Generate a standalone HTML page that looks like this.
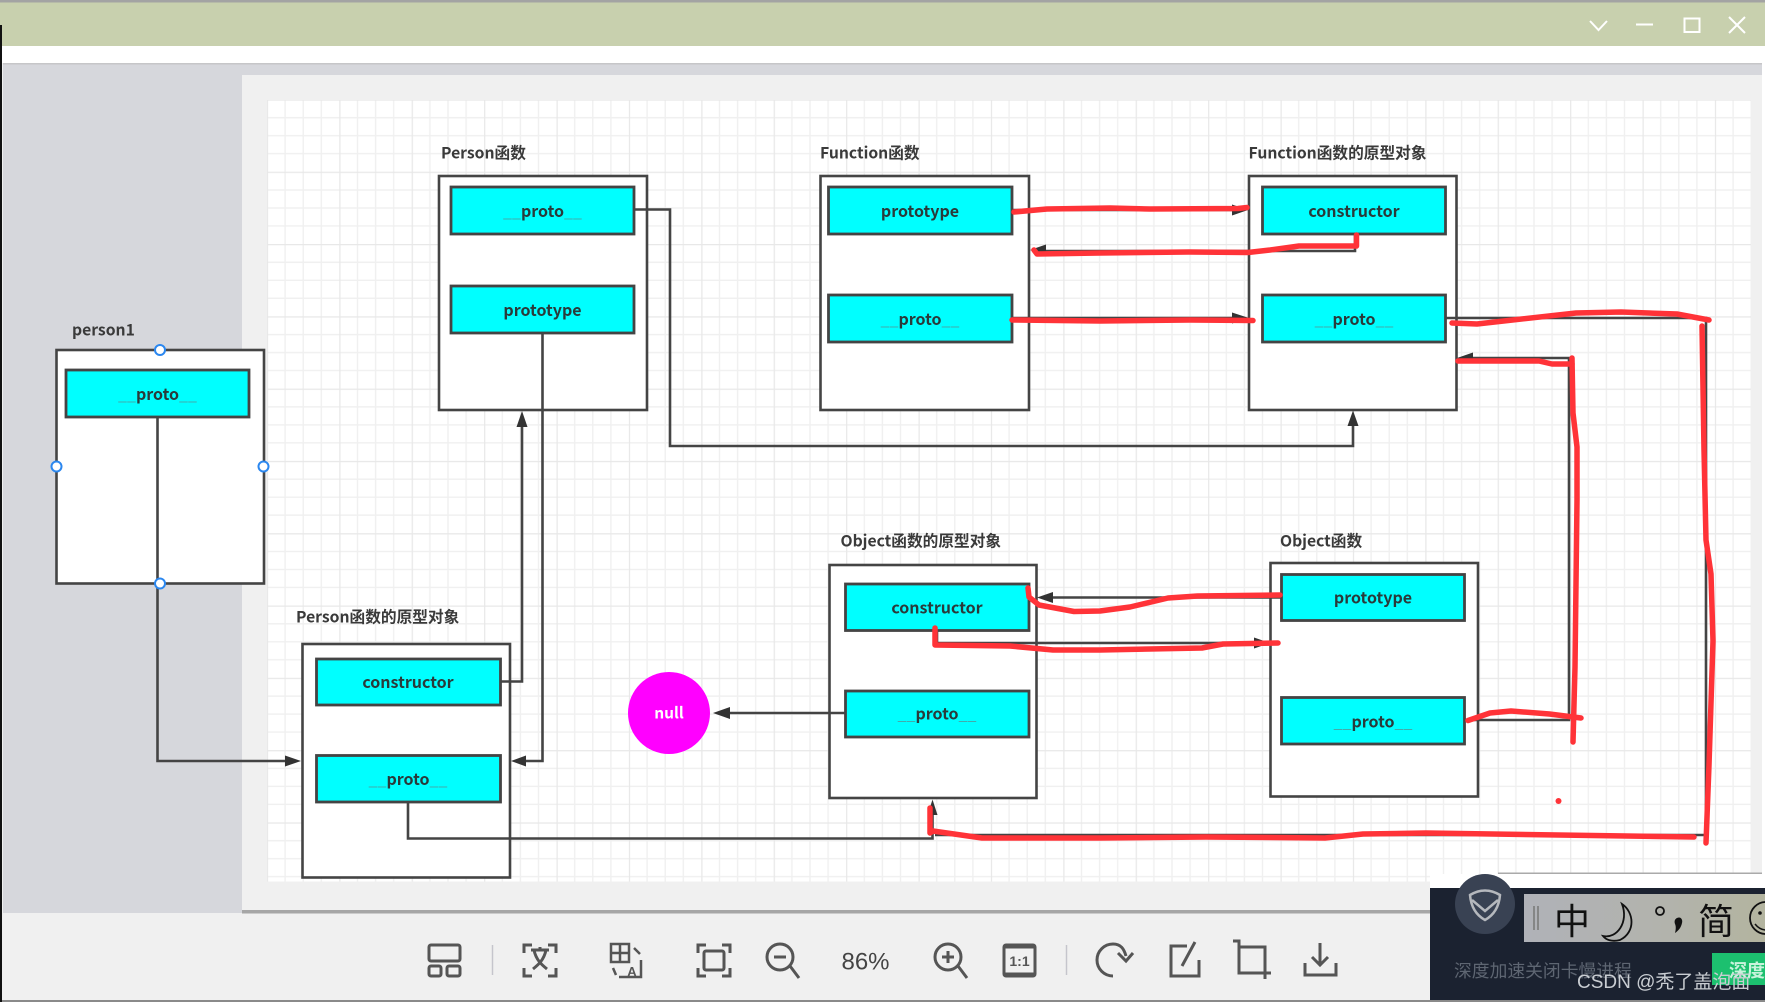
<!DOCTYPE html>
<html><head><meta charset="utf-8"><style>
html,body{margin:0;padding:0;width:1765px;height:1002px;overflow:hidden;background:#f0f0f0}
svg{display:block}
text{font-family:"Noto Sans CJK SC","Liberation Sans",sans-serif}
.lb{font-size:15.7px;font-weight:700;fill:#3a3a3a}
.t{font-size:16px;font-weight:700;fill:#2a3a3a;text-anchor:middle}
.u{fill:#45a8a8;font-weight:400}
.box{fill:#fff;stroke:#444;stroke-width:2.6}
.c{fill:#00ffff;stroke:#444;stroke-width:2.8}
.l{fill:none;stroke:#444;stroke-width:2.6}
.a{fill:#333}
.r{fill:none;stroke:#ff3338;stroke-width:5.5;stroke-linecap:round;stroke-linejoin:round}
.h{fill:#fff;stroke:#2b87ef;stroke-width:2}
.i{fill:none;stroke:#555;stroke-width:3}
</style></head><body>
<svg width="1765" height="1002" viewBox="0 0 1765 1002" xmlns="http://www.w3.org/2000/svg">
<defs>
<pattern id="g" x="267" y="100" width="72.4" height="72.3" patternUnits="userSpaceOnUse">
<path d="M0 0V72.3M18.1 0V72.3M36.2 0V72.3M54.3 0V72.3M0 17.7H72.4M0 35.7H72.4M0 53.7H72.4" stroke="#f0f0f0" stroke-width="1.4" fill="none"/>
</pattern>
<pattern id="gm" x="339.3" y="171.7" width="72.4" height="72.3" patternUnits="userSpaceOnUse">
<path d="M0 0V72.3M0 0H72.4" stroke="#e8e8e8" stroke-width="2.4" fill="none"/>
</pattern>
</defs>
<!-- window chrome -->
<rect x="0" y="0" width="1765" height="2.5" fill="#a3a3a3"/>
<rect x="0" y="2.5" width="1765" height="44" fill="#c8d0ae"/>
<rect x="0" y="46" width="1765" height="17" fill="#fff"/>
<rect x="3" y="63" width="1759" height="850" fill="#d6d7dc"/>
<rect x="3" y="63" width="1759" height="1.5" fill="#c6c6c8"/>
<rect x="242" y="75" width="1520" height="835" fill="#f0f0f0"/>
<rect x="267" y="100" width="1484" height="781.5" fill="#fff"/>
<rect x="267" y="100" width="1484" height="781.5" fill="url(#g)"/>
<rect x="267" y="100" width="1484" height="781.5" fill="url(#gm)"/>
<rect x="1762" y="46" width="3" height="845" fill="#fff"/>
<rect x="0" y="913" width="1765" height="89" fill="#f0f0f0"/>
<rect x="242" y="910" width="1520" height="3.5" fill="#a6a6a6"/>
<rect x="0" y="1000" width="1765" height="2" fill="#8a8a8a"/>
<rect x="0" y="25" width="2" height="977" fill="#111"/>
<!-- window buttons -->
<path d="M1590 21l8.500 9 8.500-9" fill="none" stroke="#fff" stroke-width="2"/>
<path d="M1636 24.500h17" fill="none" stroke="#fff" stroke-width="2"/>
<rect x="1684.500" y="18.500" width="15" height="13.500" fill="none" stroke="#fff" stroke-width="2"/>
<path d="M1729 17l16 16M1745 17l-16 16" fill="none" stroke="#fff" stroke-width="2"/>

<!-- boxes -->
<rect class="box" x="56.500" y="350" width="207.500" height="233.500"/>
<rect class="box" x="439" y="176" width="208" height="234"/>
<rect class="box" x="820.500" y="176" width="208.500" height="234"/>
<rect class="box" x="1249" y="176" width="207.500" height="234"/>
<rect class="box" x="302.500" y="644" width="207.500" height="233.500"/>
<rect class="box" x="829.500" y="565" width="207" height="233"/>
<rect class="box" x="1270.500" y="563" width="207.500" height="233.500"/>

<g>
<rect class="c" x="66" y="370" width="183" height="47"/>
<rect class="c" x="451" y="187" width="183" height="47"/>
<rect class="c" x="451" y="286" width="183" height="47"/>
<rect class="c" x="828.500" y="187" width="183.500" height="47"/>
<rect class="c" x="828.500" y="295" width="183.500" height="47"/>
<rect class="c" x="1262.500" y="187" width="183" height="47"/>
<rect class="c" x="1262.500" y="295" width="183" height="47"/>
<rect class="c" x="316.500" y="659" width="184" height="46"/>
<rect class="c" x="316.500" y="755.500" width="184" height="46.500"/>
<rect class="c" x="845.500" y="584" width="183.500" height="46.500"/>
<rect class="c" x="845.500" y="691" width="183.500" height="46"/>
<rect class="c" x="1281.500" y="574.500" width="183" height="46"/>
<rect class="c" x="1281.500" y="697.500" width="183" height="46.500"/>
</g>

<!-- labels -->
<text class="lb" x="72" y="335.500">person1</text>
<text class="lb" x="441" y="158.500">Person函数</text>
<text class="lb" x="820" y="158.500">Function函数</text>
<text class="lb" x="1248.500" y="158.500">Function函数的原型对象</text>
<text class="lb" x="296" y="622.500">Person函数的原型对象</text>
<text class="lb" x="840.500" y="546.500">Object函数的原型对象</text>
<text class="lb" x="1280" y="546.500">Object函数</text>

<text class="t" x="157.500" y="400"><tspan class="u">__</tspan>proto<tspan class="u">__</tspan></text>
<text class="t" x="542.500" y="217"><tspan class="u">__</tspan>proto<tspan class="u">__</tspan></text>
<text class="t" x="542.500" y="316">prototype</text>
<text class="t" x="920" y="217">prototype</text>
<text class="t" x="920" y="325"><tspan class="u">__</tspan>proto<tspan class="u">__</tspan></text>
<text class="t" x="1354" y="217">constructor</text>
<text class="t" x="1354" y="325"><tspan class="u">__</tspan>proto<tspan class="u">__</tspan></text>
<text class="t" x="408" y="688">constructor</text>
<text class="t" x="408" y="785"><tspan class="u">__</tspan>proto<tspan class="u">__</tspan></text>
<text class="t" x="937" y="613.500">constructor</text>
<text class="t" x="937" y="719.500"><tspan class="u">__</tspan>proto<tspan class="u">__</tspan></text>
<text class="t" x="1373" y="603.500">prototype</text>
<text class="t" x="1373" y="727.500"><tspan class="u">__</tspan>proto<tspan class="u">__</tspan></text>

<!-- null -->
<ellipse cx="669" cy="713" rx="41" ry="41" fill="#ff00ff"/>
<text x="669" y="718.500" font-size="15.500" font-weight="700" fill="#fff" text-anchor="middle">null</text>

<!-- connectors -->
<path class="l" d="M634 209.500H670V446H1353V425"/>
<polygon class="a" points="1353,410.500 1347.500,426 1358.500,426"/>
<path class="l" d="M542.500 333V761H525"/>
<polygon class="a" points="511,761 526,755.500 526,766.500"/>
<path class="l" d="M500.500 681.500H522V425"/>
<polygon class="a" points="522,411 516.500,427 527.500,427"/>
<path class="l" d="M157.500 417V761H286"/>
<polygon class="a" points="301,761 285,755.500 285,766.500"/>
<path class="l" d="M408 802V838.500H932.500V815"/>
<polygon class="a" points="932.500,799.500 927.500,815 937.500,815"/>
<path class="l" d="M845.500 713H730"/>
<polygon class="a" points="713,713 730,707 730,719"/>
<path class="l" d="M1012 210H1235"/>
<polygon class="a" points="1248,210 1232,204.500 1232,215.500"/>
<path class="l" d="M1355 234V251H1045"/>
<polygon class="a" points="1030,250 1046,244.500 1046,255.500"/>
<path class="l" d="M1012 318H1235"/>
<polygon class="a" points="1249,318 1232,312.500 1232,323.500"/>
<path class="l" d="M1445.500 318H1706V835H935"/>
<path class="l" d="M1464.500 720H1569V358H1470"/>
<polygon class="a" points="1457,358 1473,352.500 1473,363.500"/>
<path class="l" d="M1281.500 597.500H1052"/>
<polygon class="a" points="1037,597.500 1053,592 1053,603"/>
<path class="l" d="M937 630.500V643H1255"/>
<polygon class="a" points="1270,643 1254,637.500 1254,648.500"/>

<!-- handles -->
<ellipse class="h" cx="160" cy="350" rx="5" ry="5"/>
<ellipse class="h" cx="56.500" cy="466.500" rx="5" ry="5"/>
<ellipse class="h" cx="263.500" cy="466.500" rx="5" ry="5"/>
<ellipse class="h" cx="160" cy="583.500" rx="5" ry="5"/>

<!-- red annotations -->
<path class="r" d="M1014 212L1047 209L1110 208L1150 209L1238 208.500L1247 207.500"/>
<path class="r" d="M1356.500 235V246L1299 246L1270 250L1248 252.500L1189 252L1100 253L1037 254L1034 250"/>
<path class="r" d="M1012 320L1100 321L1190 320L1253 320.500"/>
<path class="r" d="M1452 323L1477 324L1576 313L1621 312L1677 314L1709 320"/>
<path class="r" d="M1702 326L1704 450L1706 540L1711 574L1713 641L1709 765L1706 843"/>
<path class="r" d="M1694 837L1426 833L1363 834L1325 838L1206 837L1100 838L982 838L954 834L933 831L930 833L930 808"/>
<path class="r" d="M1468 720.500L1490 713L1511 711L1549.500 714L1581 718"/>
<path class="r" d="M1572 358L1573 413L1577 447L1577 500L1575 667L1573 742"/>
<path class="r" d="M1458 361L1539 361L1552 364L1572 364"/>
<path class="r" d="M1280 595L1197.500 596L1168 598L1130 607L1100 611L1074 611.500L1039 605L1029 597L1028 588"/>
<path class="r" d="M935 628V645L1010 646L1053 650L1100 650L1202 648L1223 644L1278 643"/>
<circle cx="1558.500" cy="801" r="3" fill="#ff3338"/>

<!-- toolbar icons -->
<g class="i">
<rect x="429" y="945" width="31" height="16" rx="2"/>
<rect x="429" y="966" width="12" height="10" rx="2"/>
<rect x="447" y="966" width="13" height="10" rx="2"/>
<path d="M524 953v-8h8M548 945h8v8M524 968v8h8M548 976h8v-8"/>
<path d="M531 950h18M540 947v3M534 950c2 10 8 15 13 19M546 950c-2 10-8 15-13 19"/>
<path d="M611 944h18v18h-18zM620 944v18M611 953h18" stroke-width="2.500"/>
<path d="M634 948l6 6M641 960v17h-22M613 968l3 7" stroke-width="2.500"/>
<path d="M698 953v-8h8M722 945h8v8M698 968v8h8M722 976h8v-8"/>
<rect x="704" y="951" width="20" height="19" rx="2"/>
<circle cx="780" cy="957" r="13"/><path d="M790 966l9 12M774 957h12"/>
<circle cx="948" cy="957" r="13"/><path d="M958 966l9 12M942 957h12M948 951v12"/>
<rect x="1004" y="945" width="31" height="31" rx="2"/><path d="M1004 947h31M1004 974h31"/>
<path d="M1113 976a16 16 0 0 1 0-32c8 0 11 5 13 12"/><path d="M1118 953l8 8 7-8"/>
<path d="M1187 946h-16v30h28v-16"/><path d="M1182 966l13-24"/>
<path d="M1233 941h6v32h32M1239 947h26v32"/>
<path d="M1320 943v21M1312 957l8 8 8-8M1305 963v12h31v-12"/>
</g>
<path d="M492.500 945v30M1066.500 945v30" stroke="#c5c5cc" stroke-width="1.500"/>
<text x="865.500" y="969.500" font-size="24" fill="#444" text-anchor="middle" style="font-family:'Liberation Sans',sans-serif">86%</text>
<text x="1019.500" y="966" font-size="14" font-weight="700" fill="#555" text-anchor="middle" style="font-family:'Liberation Sans',sans-serif">1:1</text>
<text x="632" y="976" font-size="13" font-weight="700" fill="#555" text-anchor="middle" style="font-family:'Liberation Sans',sans-serif">A</text>

<!-- popup -->
<rect x="1498" y="872.500" width="264" height="1.500" fill="#aaa"/>
<rect x="1430" y="874" width="335" height="14" fill="#fff"/>
<rect x="1430" y="888" width="335" height="112" fill="#1b2230"/>
<defs><linearGradient id="ime" x1="0" x2="1" y1="0" y2="0"><stop offset="0" stop-color="#b0b2b8"/><stop offset="0.6" stop-color="#b2b3ac"/><stop offset="1" stop-color="#b3b49f"/></linearGradient></defs>
<rect x="1524" y="894" width="241" height="48" fill="url(#ime)"/>
<path d="M1534 906v24M1538 906v24" stroke="#777" stroke-width="1.500"/>
<text x="1572" y="934" font-size="36" fill="#111" text-anchor="middle">中</text>
<path d="M1622 904c12 8 14 28-2 36-8 2-14 0-17-4 14 3 26-14 19-32z" fill="none" stroke="#111" stroke-width="1.800"/>
<circle cx="1660" cy="911" r="4" fill="none" stroke="#111" stroke-width="1.800"/>
<path d="M1677 918c4-2 6 2 5 5-1 5-4 8-7 10 1-4 1-7 0-9-1-3 0-5 2-6z" fill="#111"/>
<text x="1716" y="934" font-size="36" fill="#111" text-anchor="middle">简</text>
<circle cx="1766" cy="918" r="16" fill="none" stroke="#111" stroke-width="1.800"/>
<circle cx="1760" cy="913" r="1.800" fill="#111"/>
<path d="M1755 924c4 5 8 6 11 6" fill="none" stroke="#111" stroke-width="1.500"/>
<ellipse cx="1485" cy="904" rx="30" ry="30" fill="#394253"/>
<path d="M1470 895c10-6 20-6 30 0-1 12-6 20-15 25-9-5-14-13-15-25z" fill="none" stroke="#b5b8bd" stroke-width="2.500"/>
<path d="M1472 900l13 11 13-11" fill="none" stroke="#b5b8bd" stroke-width="2.500"/>
<text x="1454" y="977" font-size="17.800" fill="#5e6672">深度加速关闭卡慢进程</text>
<rect x="1712" y="953" width="53" height="32" fill="#1cc06f"/>
<text x="1729" y="977" font-size="18" fill="#c9f3dc" font-weight="700">深度</text>
<text x="1577" y="988" font-size="19" fill="#c9cdd2" style="font-family:'Liberation Sans','Noto Sans CJK SC',sans-serif">CSDN @秃了盖泡面</text>
</svg>
</body></html>
